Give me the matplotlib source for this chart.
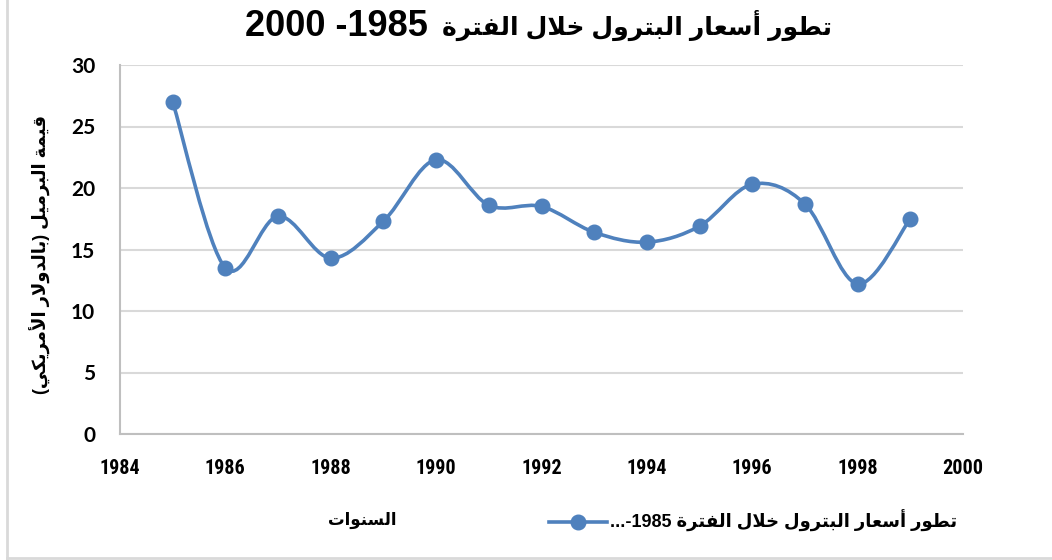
import re
import numpy as np
import matplotlib
matplotlib.use("Agg")
import matplotlib.pyplot as plt
from matplotlib.path import Path
from matplotlib.patches import PathPatch
from matplotlib.lines import Line2D

# data
years = [1985, 1986, 1987, 1988, 1989, 1990, 1991, 1992, 1993, 1994, 1995, 1996, 1997, 1998, 1999]
prices = [27.0, 13.5, 17.7, 14.3, 17.3, 22.3, 18.6, 18.5, 16.4, 15.6, 16.9, 20.3, 18.7, 12.2, 17.5]
y_ticks = [0, 5, 10, 15, 20, 25, 30]
x_ticks = [1984, 1986, 1988, 1990, 1992, 1994, 1996, 1998, 2000]

title_ar = "تطور أسعار البترول خلال الفترة"
title_years = "1985- 2000"
ylabel_txt = "قيمة البرميل (بالدولار الأمريكي)"
xlabel_txt = "السنوات"
legend_txt = "تطور أسعار البترول خلال الفترة 1985-..."

BLUE = "#4F81BD"
GRID = "#D9D9D9"

# --- minimal arabic shaping (no reshaper lib available) ---
FORMS = {
    'ا': ('\uFE8D', '\uFE8E', None, None),
    'أ': ('\uFE83', '\uFE84', None, None),
    'ب': ('\uFE8F', '\uFE90', '\uFE91', '\uFE92'),
    'ة': ('\uFE93', '\uFE94', None, None),
    'ت': ('\uFE95', '\uFE96', '\uFE97', '\uFE98'),
    'خ': ('\uFEA5', '\uFEA6', '\uFEA7', '\uFEA8'),
    'د': ('\uFEA9', '\uFEAA', None, None),
    'ر': ('\uFEAD', '\uFEAE', None, None),
    'س': ('\uFEB1', '\uFEB2', '\uFEB3', '\uFEB4'),
    'ط': ('\uFEC1', '\uFEC2', '\uFEC3', '\uFEC4'),
    'ع': ('\uFEC9', '\uFECA', '\uFECB', '\uFECC'),
    'ف': ('\uFED1', '\uFED2', '\uFED3', '\uFED4'),
    'ق': ('\uFED5', '\uFED6', '\uFED7', '\uFED8'),
    'ك': ('\uFED9', '\uFEDA', '\uFEDB', '\uFEDC'),
    'ل': ('\uFEDD', '\uFEDE', '\uFEDF', '\uFEE0'),
    'م': ('\uFEE1', '\uFEE2', '\uFEE3', '\uFEE4'),
    'ن': ('\uFEE5', '\uFEE6', '\uFEE7', '\uFEE8'),
    'و': ('\uFEED', '\uFEEE', None, None),
    'ي': ('\uFEF1', '\uFEF2', '\uFEF3', '\uFEF4'),
}
LAM_ALEF = {'ا': ('\uFEFB', '\uFEFC'), 'أ': ('\uFEF7', '\uFEF8')}


def shape(text):
    out = []
    i = 0
    prev_joins = False
    while i < len(text):
        c = text[i]
        nxt = text[i + 1] if i + 1 < len(text) else ''
        if c == 'ل' and nxt in LAM_ALEF:
            iso, fin = LAM_ALEF[nxt]
            out.append(fin if prev_joins else iso)
            prev_joins = False
            i += 2
            continue
        if c in FORMS:
            iso, fin, ini, med = FORMS[c]
            joins_next = ini is not None and nxt in FORMS
            if prev_joins and joins_next:
                out.append(med)
            elif prev_joins:
                out.append(fin)
            elif joins_next:
                out.append(ini)
            else:
                out.append(iso)
            prev_joins = ini is not None
        else:
            out.append(c)
            prev_joins = False
        i += 1
    return ''.join(out)


def ar(text):
    s = shape(text)
    mirror = {'(': ')', ')': '('}
    tokens = re.findall(r'[0-9]+|.', s)
    return ''.join(mirror.get(t, t) for t in reversed(tokens))


def smooth_path(xs, ys):
    # excel style smoothed line, bezier segments through the points
    pts = np.column_stack([xs, ys]).astype(float)
    n = len(pts)
    verts = [pts[0]]
    codes = [Path.MOVETO]
    for i in range(n - 1):
        p0 = pts[i - 1] if i > 0 else pts[i]
        p1 = pts[i]
        p2 = pts[i + 1]
        p3 = pts[i + 2] if i + 2 < n else pts[i + 1]
        verts += [p1 + (p2 - p0) / 6, p2 - (p3 - p1) / 6, p2]
        codes += [Path.CURVE4] * 3
    return Path(verts, codes)


W, H = 1052, 560
fig = plt.figure(figsize=(W / 100, H / 100), dpi=100)
ax = fig.add_axes([120 / W, 1 - 434 / H, (963 - 120) / W, (434 - 65) / H])

ax.add_patch(PathPatch(smooth_path(years, prices), fill=False, edgecolor=BLUE,
                       linewidth=2.6, capstyle='round', zorder=3))
ax.plot(years, prices, linestyle='none', marker='o', markersize=10.5,
        color=BLUE, zorder=4)

ax.set_xlim(1984, 2000)
ax.set_ylim(0, 30)
ax.set_xticks(x_ticks)
ax.set_yticks(y_ticks)
ax.set_xticklabels([str(t) for t in x_ticks], fontweight='bold', fontsize=14.5,
                   family=['Roboto Condensed', 'Liberation Sans'])
ax.set_yticklabels([str(t) for t in y_ticks], fontweight='bold', fontsize=15,
                   family=['Lato'])
ax.tick_params(axis='y', length=0, pad=18)
ax.tick_params(axis='x', length=0, pad=18)
ax.grid(axis='y', color=GRID, linewidth=1.5)
ax.set_axisbelow(True)
for s in ['top', 'right']:
    ax.spines[s].set_visible(False)
for s in ['left', 'bottom']:
    ax.spines[s].set_color('#BFBFBF')
    ax.spines[s].set_linewidth(1.5)

arfont = ['Liberation Sans', 'DejaVu Sans']
# title: years part (latin digits) and arabic part, as in the reference
fig.text(245 / W, 1 - 26 / H, ar(title_years), ha='left', va='center',
         fontsize=26, fontweight='bold', family=['Liberation Sans'])
fig.text(832 / W, 1 - 25 / H, ar(title_ar), ha='right', va='center',
         fontsize=18, fontweight='bold', family=arfont)
fig.text(40 / W, 1 - 255 / H, ar(ylabel_txt), ha='center', va='center',
         rotation=90, fontsize=13, fontweight='bold', family=arfont)
fig.text(362 / W, 1 - 520 / H, ar(xlabel_txt), ha='center', va='center',
         fontsize=12, fontweight='bold', family=arfont)

handle = Line2D([], [], color=BLUE, linewidth=2.6, marker='o', markersize=10.5)
fig.legend([handle], [ar(legend_txt)], loc='center left',
           bbox_to_anchor=(540 / W, 1 - 521 / H), frameon=False,
           handlelength=3.2, handletextpad=0.2, borderpad=0,
           prop={'family': arfont, 'weight': 'bold', 'size': 13})

# chart frame (only left and bottom edges visible in the reference)
fig.add_artist(Line2D([7 / W, 7 / W], [0, 1], color=GRID, linewidth=2,
                      transform=fig.transFigure))
fig.add_artist(Line2D([7 / W, 1], [1 - 558 / H, 1 - 558 / H], color=GRID,
                      linewidth=2, transform=fig.transFigure))

fig.savefig("out.png", dpi=100)
